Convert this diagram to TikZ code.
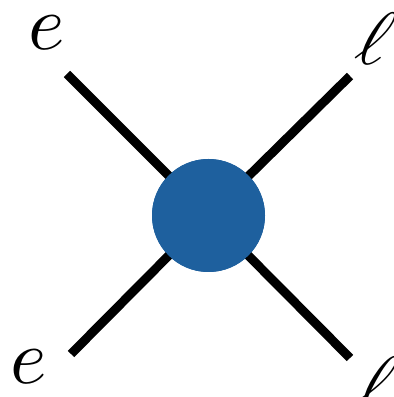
\documentclass[tikz,border=0pt]{standalone}
\usepackage{tikz}
\usetikzlibrary{positioning}

\definecolor{blobblue}{RGB}{30,96,158}

\begin{document}
\begin{tikzpicture}[
  x=1pt, y=1pt,
  leg/.style={line width=9pt, black},
  blob/.style={circle, fill=blobblue, minimum size=113pt, inner sep=0pt},
  lbl/.style={scale=7.8, inner sep=0pt},
  elllbl/.style={scale=7.4, xslant=0.3, inner sep=0pt}
]
\useasboundingbox (0,0) rectangle (394,397);

\coordinate (ein) at (67,323);
\coordinate (eout) at (71,43);
\coordinate (lin) at (350,321);
\coordinate (lout) at (350,39);

\node[blob] (vtx) at (208.5,181.5) {};

\draw[leg] (ein) -- (vtx.center);
\draw[leg] (eout) -- (vtx.center);
\draw[leg] (lin) -- (vtx.center);
\draw[leg] (lout) -- (vtx.center);

\node[blob] at (vtx) {};

\node[lbl] (ein-l) at (47,364) {$e$};
\node[lbl] (eout-l) at (29,30) {$e$};
\node[elllbl] (lin-l) at (376,358) {$\ell$};
\node[elllbl] (lout-l) at (378,14) {$\ell$};

\end{tikzpicture}
\end{document}
